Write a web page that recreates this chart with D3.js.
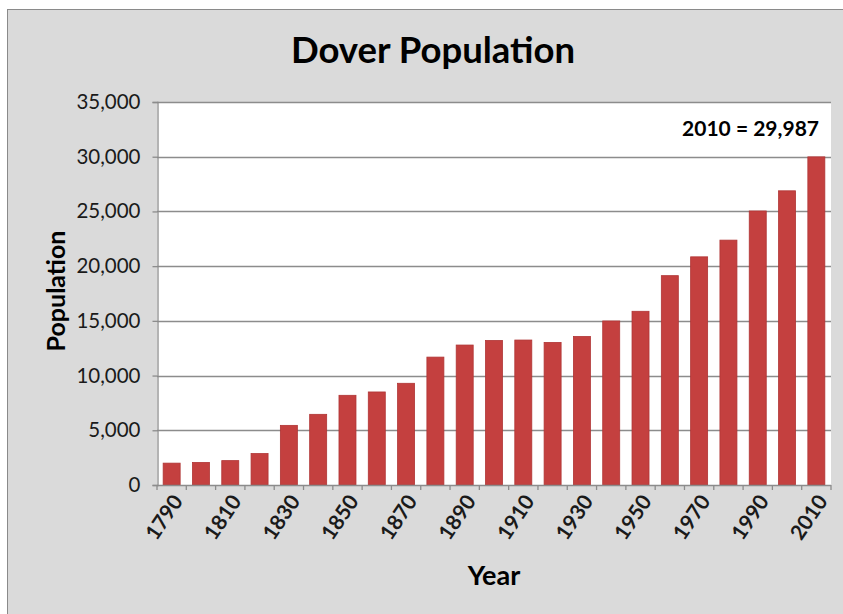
<!DOCTYPE html>
<html>
<head>
<meta charset="utf-8">
<script src="https://cdn.jsdelivr.net/npm/d3@7"></script>
<style>
  html, body { margin: 0; padding: 0; background: #fff; }
  svg { display: block; }
</style>
</head>
<body>
<script>
// Census years and Dover population counts
const years = [1790, 1800, 1810, 1820, 1830, 1840, 1850, 1860, 1870, 1880, 1890, 1900,
               1910, 1920, 1930, 1940, 1950, 1960, 1970, 1980, 1990, 2000, 2010];
const population = [1998, 2062, 2228, 2871, 5449, 6458, 8196, 8502, 9294, 11687, 12790, 13207,
                    13247, 13029, 13573, 14990, 15874, 19131, 20850, 22377, 25042, 26884, 29987];
const yTicks = [0, 5000, 10000, 15000, 20000, 25000, 30000, 35000];
const xLabelYears = [1790, 1810, 1830, 1850, 1870, 1890, 1910, 1930, 1950, 1970, 1990, 2010];

const W = 843, H = 614;
const plot = { left: 157, right: 831, top: 102, bottom: 485 };
const font = "Lato, 'Open Sans', sans-serif";

const svg = d3.select("body").append("svg").attr("width", W).attr("height", H);

// Chart frame
svg.append("rect").attr("x", 7.5).attr("y", 9.5).attr("width", W + 10).attr("height", H + 10)
  .attr("fill", "#dadada").attr("stroke", "#8a8a8a").attr("stroke-width", 1);

// Plot area
svg.append("rect").attr("x", plot.left).attr("y", plot.top)
  .attr("width", plot.right - plot.left).attr("height", plot.bottom - plot.top)
  .attr("fill", "#ffffff");

const x = d3.scaleBand().domain(years).range([plot.left, plot.right]).paddingInner(0.42).paddingOuter(0.21);
const y = d3.scaleLinear().domain([0, 35000]).range([plot.bottom, plot.top]);

// Horizontal gridlines
svg.append("g").selectAll("line").data(yTicks.filter(d => d > 0)).join("line")
  .attr("x1", plot.left).attr("x2", plot.right)
  .attr("y1", d => Math.round(y(d)) + 0.5).attr("y2", d => Math.round(y(d)) + 0.5)
  .attr("stroke", "#8c8c8c").attr("stroke-width", 1.3);

// Bars
svg.append("g").selectAll("rect").data(years).join("rect")
  .attr("x", d => x(d))
  .attr("width", x.bandwidth())
  .attr("y", (d, i) => y(population[i]))
  .attr("height", (d, i) => y(0) - y(population[i]))
  .attr("fill", "#c4403f")
  .attr("stroke", "#b03535").attr("stroke-width", 0.8);

// Y axis
const yAxis = d3.axisLeft(y).tickValues(yTicks).tickSize(5).tickPadding(12)
  .tickFormat(d3.format(","));
const gy = svg.append("g").attr("transform", `translate(${plot.left + 0.5},0)`).call(yAxis);
gy.select(".domain").attr("stroke", "#8c8c8c").attr("stroke-width", 1.3);
gy.selectAll(".tick line").attr("stroke", "#8c8c8c").attr("stroke-width", 1.3);
gy.selectAll(".tick text").attr("font-family", font).attr("font-size", 20.5)
  .attr("fill", "#1a1a1a");

// X axis: ticks on band boundaries, labels on every other year
const boundaries = d3.range(years.length + 1).map(i => plot.left + i * (plot.right - plot.left) / years.length);
const gx = svg.append("g");
gx.append("line").attr("x1", plot.left).attr("x2", plot.right)
  .attr("y1", plot.bottom + 0.5).attr("y2", plot.bottom + 0.5)
  .attr("stroke", "#8c8c8c").attr("stroke-width", 1.3);
gx.selectAll("line.tk").data(boundaries).join("line").attr("class", "tk")
  .attr("x1", d => d).attr("x2", d => d)
  .attr("y1", plot.bottom).attr("y2", plot.bottom + 5)
  .attr("stroke", "#8c8c8c").attr("stroke-width", 1.3);
gx.selectAll("text").data(xLabelYears).join("text")
  .attr("transform", d => `translate(${x(d) + x.bandwidth() / 2 + 6},${plot.bottom + 12}) rotate(-56)`)
  .attr("text-anchor", "end").attr("dy", "0.35em")
  .attr("font-family", font).attr("font-size", 21).attr("font-weight", "bold")
  .attr("fill", "#1a1a1a")
  .text(d => d);

// Titles
svg.append("text").attr("x", 433).attr("y", 63).attr("text-anchor", "middle")
  .attr("font-family", font).attr("font-size", 36.5).attr("font-weight", "bold")
  .attr("fill", "#000").text("Dover Population");
svg.append("text").attr("transform", "translate(65,291) rotate(-90)").attr("text-anchor", "middle")
  .attr("font-family", font).attr("font-size", 25).attr("font-weight", "bold")
  .attr("fill", "#000").text("Population");
svg.append("text").attr("x", 494).attr("y", 585).attr("text-anchor", "middle")
  .attr("font-family", font).attr("font-size", 27).attr("font-weight", "bold")
  .attr("fill", "#000").text("Year");

// Value callout for the latest census
const last = years.length - 1;
svg.append("text").attr("x", 819).attr("y", 136).attr("text-anchor", "end")
  .attr("font-family", font).attr("font-size", 21).attr("font-weight", "bold")
  .attr("fill", "#000")
  .text(`${years[last]} = ${d3.format(",")(population[last])}`);
</script>
</body>
</html>
